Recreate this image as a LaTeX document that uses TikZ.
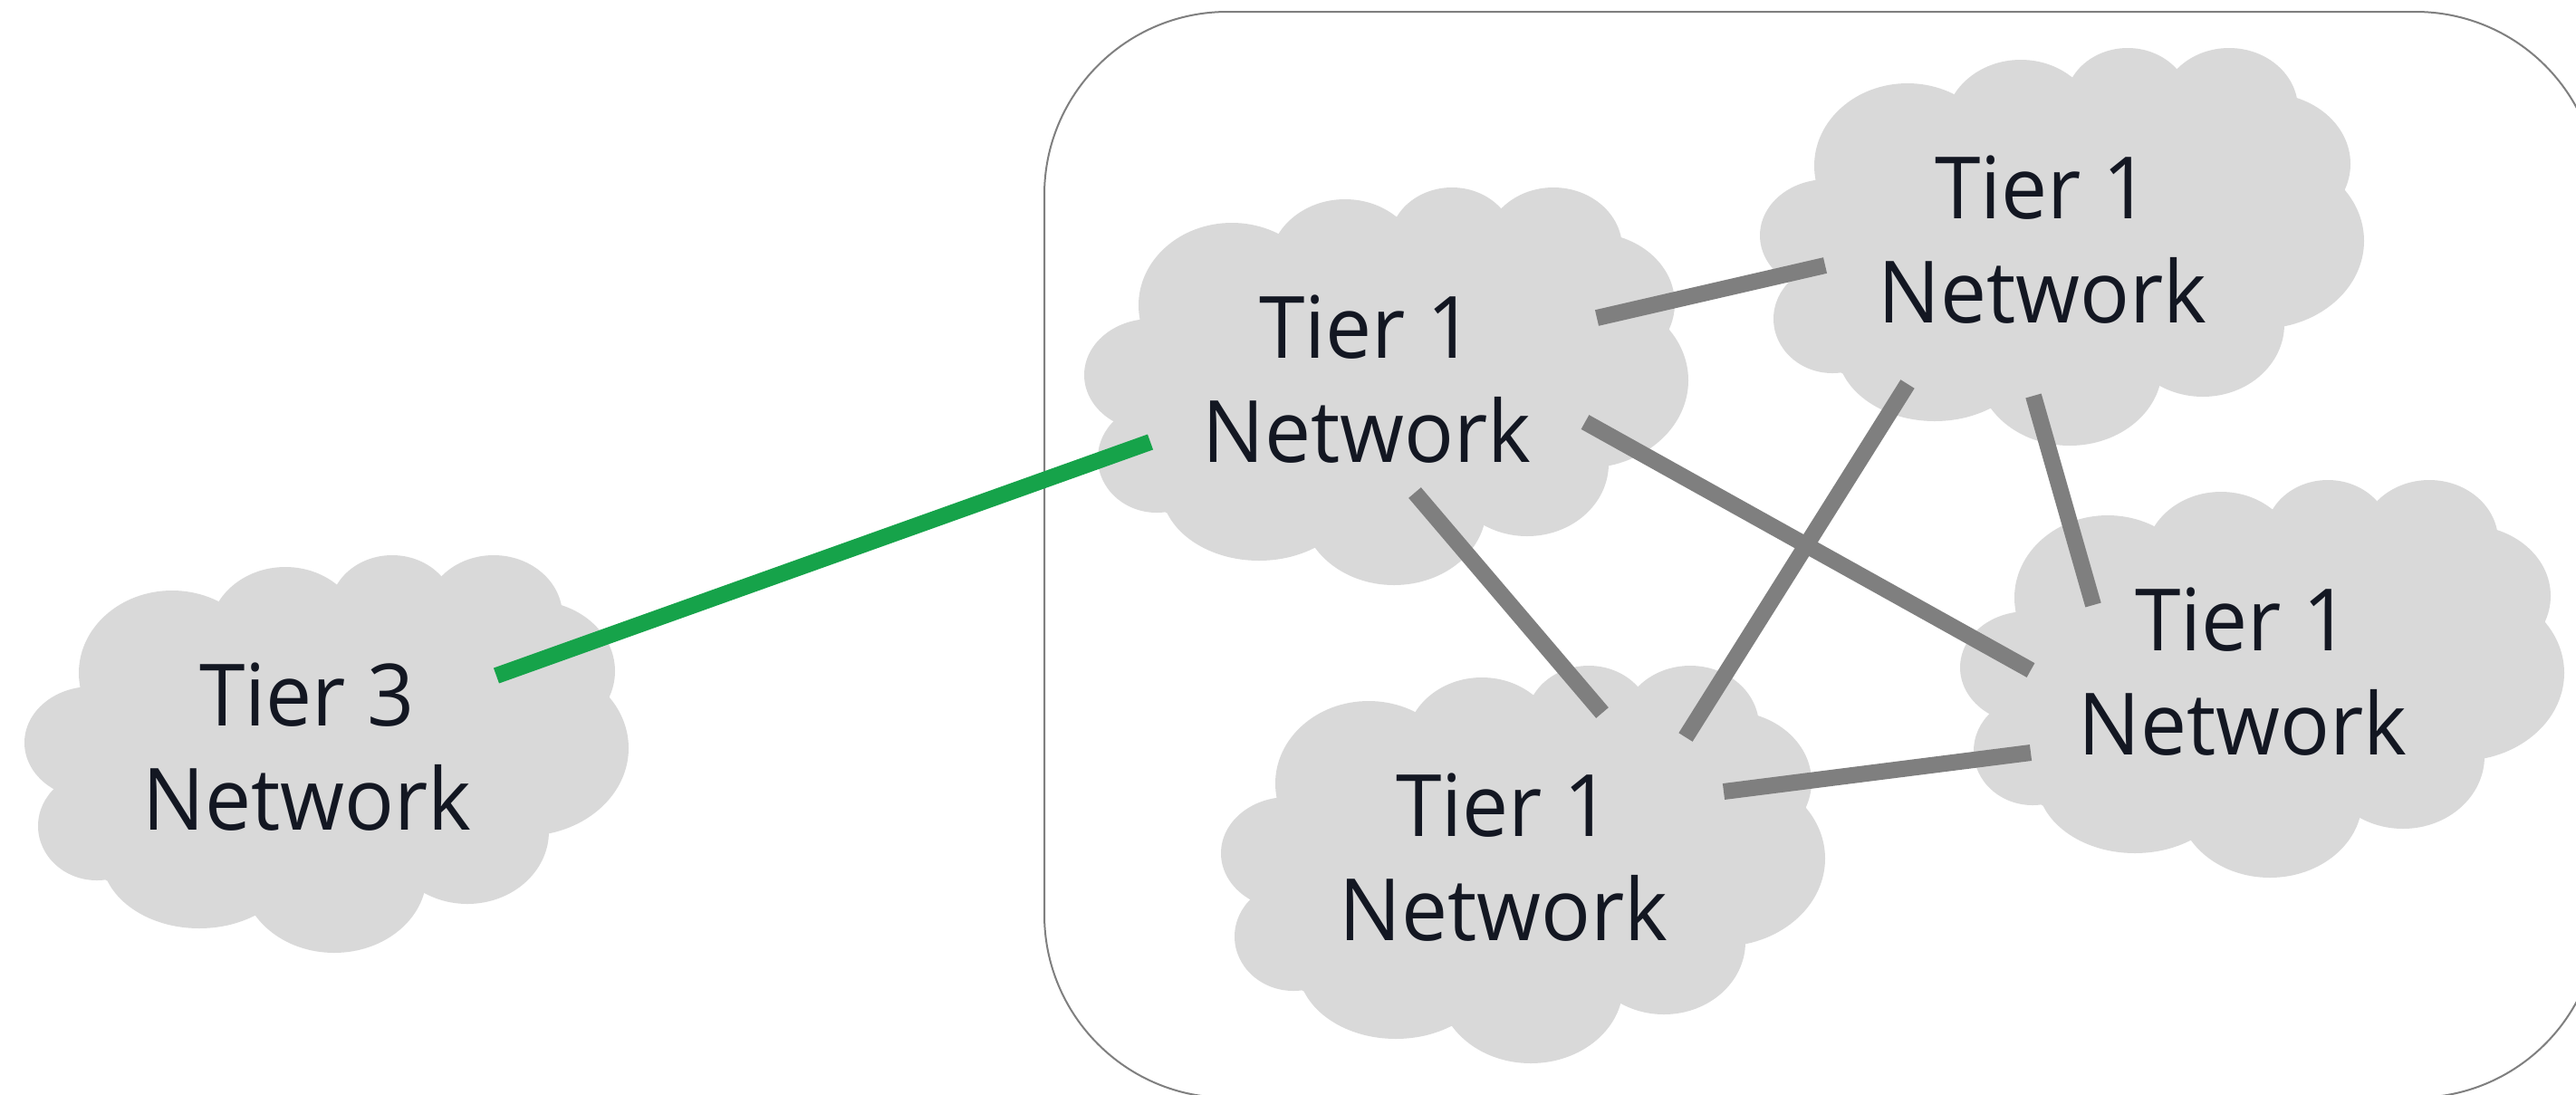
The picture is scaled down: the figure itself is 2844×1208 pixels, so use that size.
\documentclass[tikz,border=0pt]{standalone}
\usepackage{fontspec}
\setmainfont[FakeStretch=.96]{Open Sans}
\definecolor{cloudgray}{HTML}{D9D9D9}
\definecolor{linkgray}{HTML}{7F7F7F}
\definecolor{linkgreen}{HTML}{16A34A}
\definecolor{tiertext}{HTML}{131722}
\tikzset{
  tierlabel/.style={align=center,text=tiertext,inner sep=0pt,
    font=\fontsize{27}{32.7}\selectfont},
  link/.style={linkgray,line width=.18cm},
  peering/.style={linkgreen,line width=.18cm},
  region/.style={draw=linkgray,line width=.02cm,rounded corners=2.02cm}
}
\begin{document}
\begin{tikzpicture}[x=.01cm,y=-.01cm]
\useasboundingbox (0,0) rectangle (2844,1208);
\clip (0,0) rectangle (2844,1208);
\draw[region] (1153,13) rectangle (2869,1212);
%%%%
\foreach \nm/\cx/\cy/\tier in {cloudE/27/613/3,cloudA/1197/207/1,cloudB/1943/53/1,cloudC/2164/530/1,cloudD/1348/735/1}{
\begin{scope}[shift={(\cx,\cy)}]
\foreach \lx/\ly/\rx/\ry in {163/130/103/91,288/87/84/74,406/61/69/61,518/67/76/67,560/128/92/78,552/213/115/97,489/305/90/80,342/353/102/86,193/332/108/80,80/299/65/60,74/207/74/62}
\fill[cloudgray] (\lx,\ly) ellipse [x radius=\rx,y radius=\ry];
\fill[cloudgray] (61,146) -- (217,52) -- (347,33) -- (460,24) -- (592,55) -- (646,156) -- (577,305) -- (441,373) -- (254,398) -- (90,359) -- (33,258) -- cycle;
\node[tierlabel] (\nm) at (312,212) {Tier \tier\\Network};
\end{scope}
}
%%%%
\coordinate (ea) at (548,746);
\coordinate (ae) at (1270,488);
\coordinate (ab) at (1763,351);
\coordinate (ba) at (2015,293);
\coordinate (ad) at (1562,544);
\coordinate (da) at (1769,787);
\coordinate (ac) at (1750,466);
\coordinate (ca) at (2242,740);
\coordinate (bd) at (2106,424);
\coordinate (db) at (1861,814);
\coordinate (bc) at (2245,437);
\coordinate (cb) at (2311,668);
\coordinate (dc) at (1903,874);
\coordinate (cd) at (2242,831);
\draw[peering] (ea) -- (ae);
\foreach \s/\e in {ab/ba,ad/da,ac/ca,bd/db,bc/cb,dc/cd}
\draw[link] (\s) -- (\e);
\end{tikzpicture}
\end{document}
